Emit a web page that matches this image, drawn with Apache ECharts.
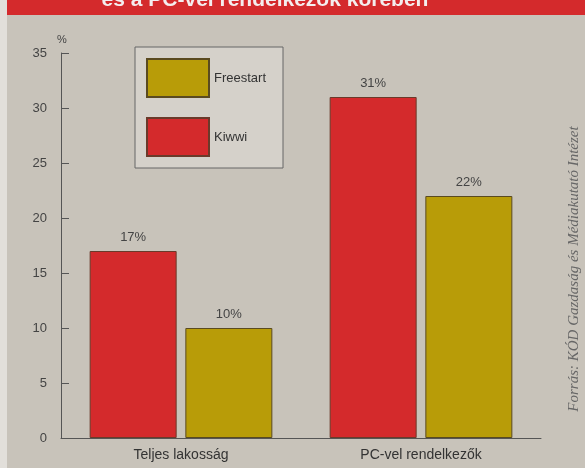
<!DOCTYPE html>
<html><head><meta charset="utf-8">
<script src="https://cdn.jsdelivr.net/npm/echarts@6/dist/echarts.min.js"></script>
<style>html,body{margin:0;padding:0;background:#e2dfda}#c{width:585px;height:468px}</style>
</head><body><div id="c"></div>
<script>
const categories = ['Teljes lakosság', 'PC-vel rendelkezők'];
const kiwwi = [17, 31];
const freestart = [10, 22];
const yTicks = [0, 5, 10, 15, 20, 25, 30, 35];

const chart = echarts.init(document.getElementById('c'), null, {renderer: 'canvas'});
const lbl = {show: true, position: 'top', formatter: '{c}%', color: '#444', fontFamily: 'Liberation Sans', fontSize: 13, distance: 7};
chart.setOption({
  animation: false,
  backgroundColor: '#e2dfda',
  graphic: [
    {type: 'rect', left: 7, top: 0, shape: {width: 578, height: 468}, style: {fill: '#c8c3ba'}, z: -10},
    {type: 'rect', left: 7, top: 0, shape: {width: 578, height: 15}, style: {fill: '#d42a2c'}, z: -9},
    {type: 'text', x: 265, y: 11, style: {text: 'és a PC-vel rendelkezők körében', fill: '#f4eeee', font: 'bold 21px Liberation Sans', textAlign: 'center', textVerticalAlign: 'bottom'}},
    {type: 'text', x: 62, y: 40, style: {text: '%', fill: '#444', font: '11px Liberation Sans', textAlign: 'center', textVerticalAlign: 'middle'}},
    {type: 'text', x: 574, y: 269, rotation: Math.PI / 2, style: {text: 'Forrás: KÓD Gazdaság és Médiakutató Intézet', fill: '#666', font: 'italic 15px Liberation Serif', textAlign: 'center', textVerticalAlign: 'middle'}}
  ],
  legend: {
    data: ['Freestart', 'Kiwwi'],
    orient: 'vertical', left: 135, top: 47,
    icon: 'rect',
    itemWidth: 62, itemHeight: 38, itemGap: 19,
    padding: [11, 17, 11, 11],
    backgroundColor: '#d5d1ca', borderColor: '#666', borderWidth: 1,
    textStyle: {color: '#333', fontFamily: 'Liberation Sans', fontSize: 13},
    selectedMode: false
  },
  grid: {left: 61, right: 44, top: 53, bottom: 30},
  xAxis: {
    type: 'category', data: categories,
    axisLine: {lineStyle: {color: '#555', width: 1}},
    axisTick: {inside: true, length: 6, lineStyle: {color: '#555'}},
    axisLabel: {color: '#333', fontFamily: 'Liberation Sans', fontSize: 14, margin: 10}
  },
  yAxis: {
    type: 'value', min: 0, max: 35, interval: 5,
    axisLine: {show: true, lineStyle: {color: '#555', width: 1}},
    axisTick: {show: true, inside: true, length: 8, lineStyle: {color: '#555'}},
    splitLine: {show: false},
    axisLabel: {color: '#444', fontFamily: 'Liberation Sans', fontSize: 13, margin: 14,
      formatter: v => yTicks.includes(v) ? String(v) : ''}
  },
  series: [
    {name: 'Kiwwi', type: 'bar', data: kiwwi, barWidth: 87, barGap: '10%',
     itemStyle: {color: '#d42a2c', borderColor: '#6a3a2a', borderWidth: 1}, label: lbl},
    {name: 'Freestart', type: 'bar', data: freestart, barWidth: 87,
     itemStyle: {color: '#b89c08', borderColor: '#5a4a20', borderWidth: 1}, label: lbl}
  ]
});
</script></body></html>
